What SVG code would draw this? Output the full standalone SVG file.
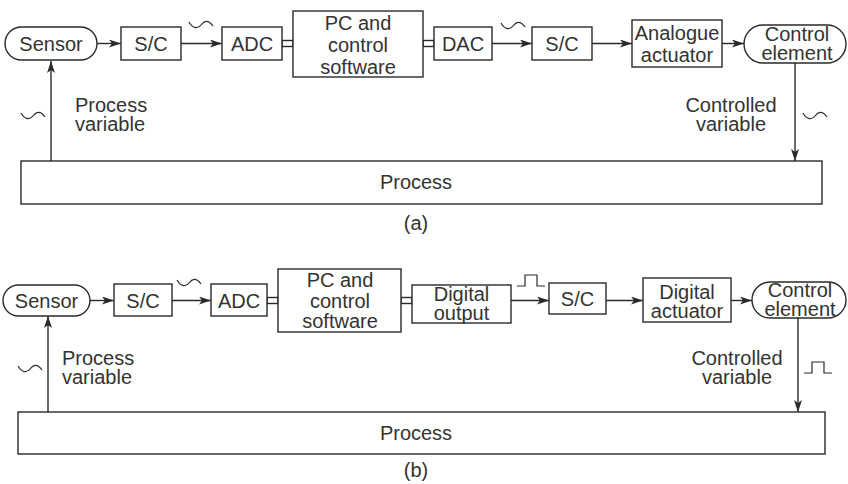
<svg xmlns="http://www.w3.org/2000/svg" width="848" height="484" viewBox="0 0 848 484">
<defs>
<marker id="ah" markerUnits="userSpaceOnUse" markerWidth="12" markerHeight="8" refX="12" refY="4" orient="auto">
<path d="M0,0 L12,4 L0,8 L3,4 z" fill="#2a2a2a"/>
</marker>
<path id="tilde" d="M0,1 C4,8 9,8 12,4 S19,-2 24,5"/>
<path id="pulse" d="M0,11 H8 V0 H20 V11 H28"/>
</defs>
<style>
.b{fill:#fff;stroke:#2a2a2a;stroke-width:1.4}
.l{fill:none;stroke:#2a2a2a;stroke-width:1.4}
.a{fill:none;stroke:#2a2a2a;stroke-width:1.4;marker-end:url(#ah)}
.s{fill:none;stroke:#2a2a2a;stroke-width:1.2}
text{font-family:"Liberation Sans",Arial,sans-serif;font-size:20px;fill:#333}
.m{text-anchor:middle}
</style>
<rect width="848" height="484" fill="#fff"/>

<g id="connectors">
<line class="a" x1="97" y1="43.5" x2="121" y2="43.5"/>
<line class="a" x1="181" y1="43.5" x2="222" y2="43.5"/>
<rect class="l" x="282" y="40.5" width="11" height="6"/>
<rect class="l" x="423" y="40.5" width="11" height="6"/>
<line class="a" x1="492" y1="43.5" x2="532" y2="43.5"/>
<line class="a" x1="592" y1="43.5" x2="632" y2="43.5"/>
<line class="a" x1="722" y1="43.5" x2="744" y2="43.5"/>
<line class="a" x1="795" y1="63" x2="795" y2="161"/>
<line class="a" x1="51" y1="161" x2="51" y2="61"/>
<line class="a" x1="90" y1="300.5" x2="114" y2="300.5"/>
<line class="a" x1="172" y1="300.5" x2="211" y2="300.5"/>
<rect class="l" x="267" y="297.5" width="11" height="6"/>
<rect class="l" x="401" y="297.5" width="11" height="6"/>
<line class="a" x1="511" y1="300.5" x2="549" y2="300.5"/>
<line class="a" x1="606" y1="300.5" x2="643" y2="300.5"/>
<line class="a" x1="731" y1="300.5" x2="752" y2="300.5"/>
<line class="a" x1="798" y1="318" x2="798" y2="412"/>
<line class="a" x1="48" y1="412" x2="48" y2="316"/>
</g>

<g id="signals">
<use href="#tilde" class="s" transform="translate(189,21)"/>
<use href="#tilde" class="s" transform="translate(501,22)"/>
<use href="#tilde" class="s" transform="translate(21,112)"/>
<use href="#tilde" class="s" transform="translate(803,112)"/>
<use href="#tilde" class="s" transform="translate(177,279)"/>
<use href="#tilde" class="s" transform="translate(18,365)"/>
<use href="#pulse" class="s" transform="translate(517,275)"/>
<use href="#pulse" class="s" transform="translate(804,362)"/>
</g>

<g id="labels">
<text x="75" y="112">Process</text>
<text x="75" y="131">variable</text>
<text class="m" x="731" y="112">Controlled</text>
<text class="m" x="731" y="131">variable</text>
<text class="m" x="416" y="230">(a)</text>
<text x="62" y="365">Process</text>
<text x="62" y="384">variable</text>
<text class="m" x="737" y="365">Controlled</text>
<text class="m" x="737" y="384">variable</text>
<text class="m" x="416" y="477">(b)</text>
</g>

<g id="a-sensor"><rect class="b" x="5" y="27" width="92" height="33" rx="16.5"/><text class="m" x="51" y="50.5">Sensor</text></g>
<g id="a-sc1"><rect class="b" x="121" y="27" width="60" height="33"/><text class="m" x="151" y="50.5">S/C</text></g>
<g id="a-adc"><rect class="b" x="222" y="27" width="60" height="33"/><text class="m" x="252" y="50.5">ADC</text></g>
<g id="a-pc"><rect class="b" x="293" y="11" width="130" height="66"/><text class="m" x="358" y="30">PC and</text><text class="m" x="358" y="52">control</text><text class="m" x="358" y="74">software</text></g>
<g id="a-dac"><rect class="b" x="434" y="27" width="58" height="33"/><text class="m" x="463" y="50.5">DAC</text></g>
<g id="a-sc2"><rect class="b" x="532" y="27" width="60" height="33"/><text class="m" x="562" y="50.5">S/C</text></g>
<g id="a-actuator"><rect class="b" x="632" y="20" width="90" height="47"/><text class="m" x="677" y="40">Analogue</text><text class="m" x="677" y="62">actuator</text></g>
<g id="a-control"><rect class="b" x="744" y="25" width="102" height="38" rx="19"/><text class="m" x="797" y="41">Control</text><text class="m" x="797" y="60">element</text></g>
<g id="a-process"><rect class="b" x="21" y="161" width="801" height="43"/><text class="m" x="416" y="189">Process</text></g>

<g id="b-sensor"><rect class="b" x="3" y="285" width="87" height="31" rx="15.5"/><text class="m" x="46.5" y="307.5">Sensor</text></g>
<g id="b-sc1"><rect class="b" x="114" y="284" width="58" height="32"/><text class="m" x="143" y="307.5">S/C</text></g>
<g id="b-adc"><rect class="b" x="211" y="284" width="56" height="32"/><text class="m" x="239" y="307.5">ADC</text></g>
<g id="b-pc"><rect class="b" x="278" y="269" width="123" height="63"/><text class="m" x="340" y="287">PC and</text><text class="m" x="340" y="308">control</text><text class="m" x="340" y="328">software</text></g>
<g id="b-digout"><rect class="b" x="412" y="285" width="99" height="38"/><text class="m" x="461.5" y="301">Digital</text><text class="m" x="461.5" y="320">output</text></g>
<g id="b-sc2"><rect class="b" x="549" y="283" width="57" height="31"/><text class="m" x="577.5" y="306">S/C</text></g>
<g id="b-actuator"><rect class="b" x="643" y="278" width="88" height="44"/><text class="m" x="687" y="299">Digital</text><text class="m" x="687" y="318">actuator</text></g>
<g id="b-control"><rect class="b" x="752" y="282" width="94" height="36" rx="18"/><text class="m" x="800" y="297">Control</text><text class="m" x="800" y="316">element</text></g>
<g id="b-process"><rect class="b" x="18" y="412" width="807" height="42"/><text class="m" x="416" y="440">Process</text></g>
</svg>
